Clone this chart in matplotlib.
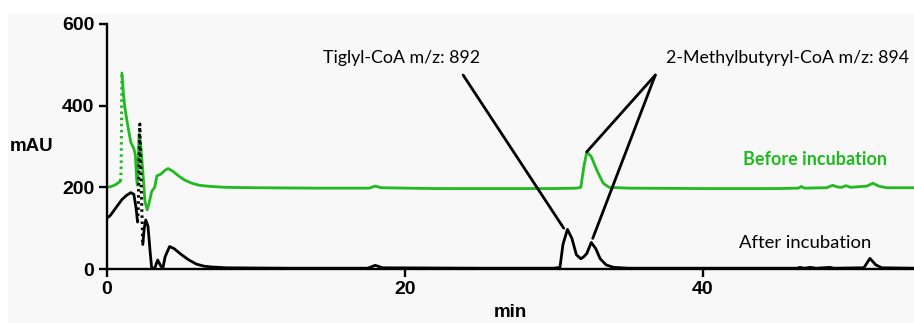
import matplotlib
matplotlib.use("Agg")
import matplotlib.pyplot as plt
from matplotlib.patches import Rectangle
import numpy as np

# retention time (min) and absorbance (mAU)
beforeTime = [0.0, 0.3, 0.6, 0.9, 0.95, 1.0, 1.1, 1.2, 1.4, 1.6, 1.8, 1.9, 2.0,
              2.05, 2.15, 2.25, 2.4, 2.55, 2.7, 2.85, 3.0, 3.2, 3.35, 3.6, 3.9,
              4.1, 4.4, 4.8, 5.2, 5.7, 6.2, 7.0, 8.0, 10.0, 14.0, 17.6, 18.0,
              18.4, 22.0, 26.0, 30.0, 31.5, 31.8, 32.0, 32.2, 32.5, 32.9, 33.3,
              33.7, 35.0, 40.0, 45.0, 46.4, 46.6, 46.8, 48.3, 48.7, 49.0, 49.3,
              49.6, 49.9, 51.0, 51.4, 51.8, 52.3, 54.2]
beforeSignal = [200, 202, 207, 215, 240, 480, 430, 395, 350, 310, 295, 280, 215,
                205, 330, 310, 240, 165, 145, 165, 190, 200, 228, 232, 242,
                246, 240, 228, 218, 210, 205, 202, 200, 199, 198, 198, 203,
                199, 197, 197, 197, 198, 200, 250, 287, 275, 240, 210,
                200, 198, 197, 197, 198, 202, 198, 199, 205, 201, 200,
                204, 200, 203, 210, 203, 199, 199]

afterTime = [0.0, 0.2, 0.5, 0.8, 1.0, 1.3, 1.6, 1.8, 1.95, 2.05, 2.1, 2.2, 2.3,
             2.4, 2.5, 2.6, 2.75, 2.9, 3.0, 3.2, 3.4, 3.6, 3.75, 3.9, 4.2, 4.5,
             5.0, 5.5, 6.0, 6.5, 7.0, 8.0, 12.0, 17.5, 18.0, 18.5, 25.0, 30.0,
             30.4, 30.6, 30.9, 31.2, 31.5, 31.8, 32.0, 32.2, 32.5, 32.8, 33.1,
             33.5, 34.0, 35.0, 45.0, 46.3, 46.5, 46.8, 47.2, 47.6, 48.5, 48.8,
             50.8, 51.2, 51.6, 52.0, 54.2]
afterSignal = [125, 130, 145, 160, 170, 180, 187, 183, 150, 115, 150, 355, 200,
               60, 100, 120, 105, 40, 2, 2, 22, 8, 2, 30, 55, 50,
               35, 22, 12, 7, 5, 3, 2, 2, 9, 3, 2, 2,
               4, 60, 97, 75, 35, 25, 30, 38, 65, 50, 25,
               10, 4, 2, 2, 2, 4, 2, 4, 2, 4, 2,
               3, 26, 10, 3, 2]

# steep stretches drawn dotted (first, last index)
beforeDotted = (3, 5)
afterDotted = (9, 13)

green = "#1fba1f"


def drawTrace(ax, t, y, dotted, color):
    a, b = dotted
    ax.plot(t[:a + 1], y[:a + 1], color=color, lw=2.0, solid_capstyle="round")
    ax.plot(t[a:b + 1], y[a:b + 1], color=color, lw=2.2,
            linestyle=(0, (0.8, 1.2)))
    ax.plot(t[b:], y[b:], color=color, lw=2.0, solid_capstyle="round")


def main():
    fig = plt.figure(figsize=(9.14, 3.23), dpi=100, facecolor="white")
    fig.patches.append(Rectangle((8 / 914, 0), 1, 1 - 14 / 323,
                                 transform=fig.transFigure,
                                 facecolor="#f8f8f8", edgecolor="none",
                                 zorder=-10))
    ax = fig.add_axes([107 / 914, 54 / 323, 807 / 914, 245 / 323])
    ax.set_facecolor("none")

    drawTrace(ax, beforeTime, beforeSignal, beforeDotted, green)
    drawTrace(ax, afterTime, afterSignal, afterDotted, "black")

    ax.set_xlim(0, 54.16)
    ax.set_ylim(0, 600)
    ax.set_xticks([0, 20, 40])
    ax.set_yticks([0, 200, 400, 600])
    for side in ["top", "right"]:
        ax.spines[side].set_visible(False)
    for side in ["left", "bottom"]:
        ax.spines[side].set_linewidth(1.7)
    ax.tick_params(length=6, width=1.7, labelsize=14, pad=3)
    for lab in ax.get_xticklabels() + ax.get_yticklabels():
        lab.set_fontweight("bold")
        lab.set_fontfamily("Liberation Sans")

    ax.set_xlabel("min", fontsize=13.5, fontweight="bold",
                  fontfamily="Liberation Sans", labelpad=4)
    ax.set_ylabel("mAU", fontsize=13.5, fontweight="bold",
                  fontfamily="Liberation Sans", rotation=0, ha="center",
                  va="center")
    ax.yaxis.set_label_coords(-0.094, 0.5)

    font = "Lato"
    iTig = afterTime.index(30.9)
    iMb = afterTime.index(32.5)
    iGreen = beforeTime.index(32.2)
    line = dict(arrowstyle="-", color="black", lw=2.0, shrinkA=0, shrinkB=0)
    ax.annotate("", xy=(afterTime[iTig] - 0.25, afterSignal[iTig] + 3),
                xytext=(23.9, 475), arrowprops=line)
    ax.annotate("", xy=(beforeTime[iGreen], beforeSignal[iGreen]),
                xytext=(36.8, 475), arrowprops=line)
    ax.annotate("", xy=(afterTime[iMb] + 0.1, afterSignal[iMb] + 10),
                xytext=(36.8, 475), arrowprops=line)

    ax.text(14.5, 517, "Tiglyl-CoA m/z: 892", fontsize=12.8, family=font,
            va="center", ha="left")
    ax.text(37.5, 517, "2-Methylbutyryl-CoA m/z: 894", fontsize=12.8,
            family=font, va="center", ha="left", clip_on=False)
    ax.text(42.7, 267, "Before incubation", fontsize=13, family=font,
            fontweight="bold", color=green, va="center", ha="left")
    ax.text(42.4, 64, "After incubation", fontsize=13.3, family=font,
            va="center", ha="left")

    fig.savefig("out.png", dpi=100, facecolor=fig.get_facecolor())


if __name__ == "__main__":
    main()
